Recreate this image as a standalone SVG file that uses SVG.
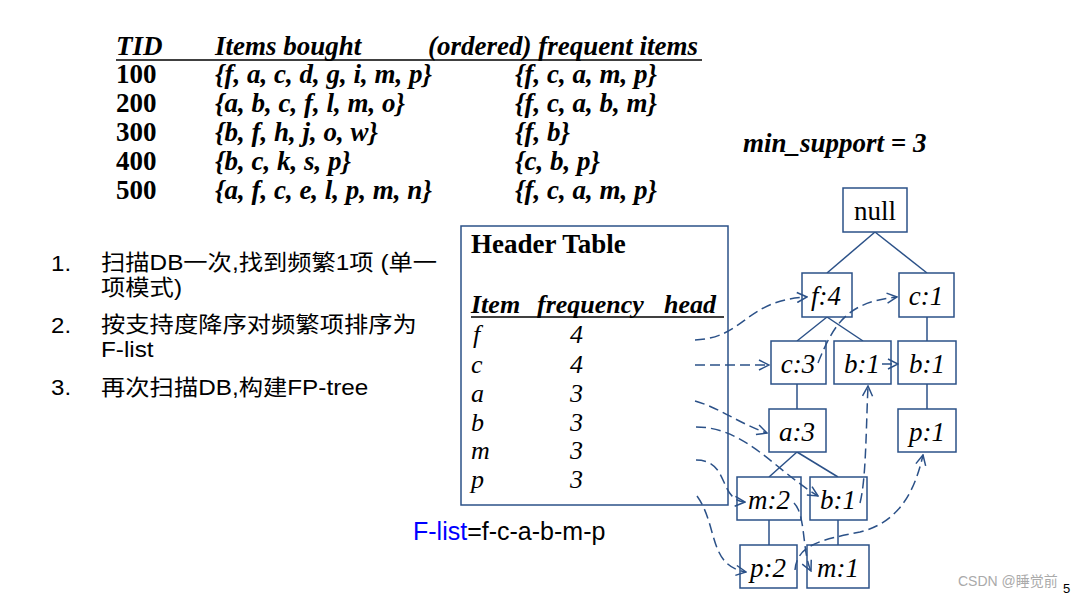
<svg xmlns="http://www.w3.org/2000/svg" width="1073" height="596" viewBox="0 0 1073 596">
<style>
.tb{font-family:"Liberation Serif",serif;font-size:27px;font-weight:bold;font-style:italic;fill:#000}
.tn{font-family:"Liberation Serif",serif;font-size:27px;font-weight:bold;fill:#000}
.ht{font-family:"Liberation Serif",serif;font-size:26px;font-style:italic;fill:#000}
.hb{font-family:"Liberation Serif",serif;font-size:26px;font-weight:bold;font-style:italic;fill:#000}
.zh{font-family:"Liberation Sans","Noto Sans CJK SC",sans-serif;font-size:21.5px;fill:#000}
.box{fill:#fff;stroke:#2b5188;stroke-width:1.5}
.nt{font-family:"Liberation Serif",serif;font-size:27px;font-style:italic;fill:#000;text-anchor:middle}
.edge{stroke:#2b5188;stroke-width:1.5;fill:none}
.link{stroke:#2b5188;stroke-width:1.5;fill:none;stroke-dasharray:10 5;marker-end:url(#arr)}
</style>
<defs>
<marker id="arr" viewBox="0 0 12 12" refX="11" refY="6" markerWidth="12" markerHeight="12" markerUnits="userSpaceOnUse" orient="auto">
<path d="M1,1 L11,6 L1,11" fill="none" stroke="#2b5188" stroke-width="1.5"/>
</marker>
</defs>
<rect width="1073" height="596" fill="#fff"/>

<g id="transactions">
<text class="tb" x="116" y="55">TID</text>
<text class="tb" x="215" y="55">Items bought</text>
<text class="tb" x="428" y="55">(ordered) frequent items</text>
<line x1="116" y1="60" x2="702" y2="60" stroke="#000" stroke-width="1.5"/>
<text class="tn" x="116" y="83">100</text>
<text class="tb" x="215" y="83">{f, a, c, d, g, i, m, p}</text>
<text class="tb" x="515" y="83">{f, c, a, m, p}</text>
<text class="tn" x="116" y="112">200</text>
<text class="tb" x="215" y="112">{a, b, c, f, l, m, o}</text>
<text class="tb" x="515" y="112">{f, c, a, b, m}</text>
<text class="tn" x="116" y="141">300</text>
<text class="tb" x="215" y="141">{b, f, h, j, o, w}</text>
<text class="tb" x="515" y="141">{f, b}</text>
<text class="tn" x="116" y="170">400</text>
<text class="tb" x="215" y="170">{b, c, k, s, p}</text>
<text class="tb" x="515" y="170">{c, b, p}</text>
<text class="tn" x="116" y="199">500</text>
<text class="tb" x="215" y="199">{a, f, c, e, l, p, m, n}</text>
<text class="tb" x="515" y="199">{f, c, a, m, p}</text>
</g>

<g id="min-support">
<text class="tb" x="743" y="152">min_support = 3</text>
</g>

<g id="steps">
<text class="zh" transform="translate(51,271) scale(1.12,1)">1.</text>
<text class="zh" transform="translate(101,270) scale(1.13,1)">扫描DB一次,找到频繁1项 (单一</text>
<text class="zh" transform="translate(101,295) scale(1.13,1)">项模式)</text>
<text class="zh" transform="translate(51,333) scale(1.12,1)">2.</text>
<text class="zh" transform="translate(101,332) scale(1.13,1)">按支持度降序对频繁项排序为</text>
<text class="zh" transform="translate(101,357) scale(1.13,1)">F-list</text>
<text class="zh" transform="translate(51,395) scale(1.12,1)">3.</text>
<text class="zh" transform="translate(101,395) scale(1.13,1)">再次扫描DB,构建FP-tree</text>
</g>

<g id="flist">
<text x="413" y="540" style="font-family:'Liberation Sans',sans-serif;font-size:25px"><tspan fill="#0000ff">F-list</tspan><tspan fill="#000">=f-c-a-b-m-p</tspan></text>
</g>

<g id="header-table">
<rect class="box" x="461" y="226" width="267" height="279" fill="none"/>
<text x="471" y="253" style="font-family:'Liberation Serif',serif;font-size:27px;font-weight:bold">Header Table</text>
<text class="hb" x="471" y="313">Item</text>
<text class="hb" x="537" y="313">frequency</text>
<text class="hb" x="664" y="313">head</text>
<line x1="471" y1="317" x2="724" y2="317" stroke="#000" stroke-width="1.5"/>
<text class="ht" x="473" y="343">f</text><text class="ht" x="570" y="343">4</text>
<text class="ht" x="471" y="373">c</text><text class="ht" x="570" y="373">4</text>
<text class="ht" x="471" y="402">a</text><text class="ht" x="570" y="402">3</text>
<text class="ht" x="471" y="431">b</text><text class="ht" x="570" y="431">3</text>
<text class="ht" x="471" y="459">m</text><text class="ht" x="570" y="459">3</text>
<text class="ht" x="471" y="488">p</text><text class="ht" x="570" y="488">3</text>
</g>

<g id="tree-edges">
<line class="edge" x1="875" y1="232" x2="827" y2="273"/>
<line class="edge" x1="875" y1="232" x2="927" y2="273"/>
<line class="edge" x1="827" y1="317" x2="797" y2="341"/>
<line class="edge" x1="827" y1="317" x2="863" y2="341"/>
<line class="edge" x1="927" y1="317" x2="927" y2="341"/>
<line class="edge" x1="797" y1="384" x2="797" y2="409"/>
<line class="edge" x1="927" y1="384" x2="927" y2="409"/>
<line class="edge" x1="797" y1="452" x2="769" y2="477"/>
<line class="edge" x1="797" y1="452" x2="838" y2="477"/>
<line class="edge" x1="769" y1="520" x2="769" y2="545"/>
<line class="edge" x1="838" y1="520" x2="838" y2="545"/>
</g>

<g id="node-null"><rect class="box" x="843" y="188" width="64" height="44"/><text class="nt" x="875" y="220" style="font-style:normal">null</text></g>
<g id="node-f4"><rect class="box" x="802" y="273" width="50" height="44"/><text class="nt" x="826" y="305">f:4</text></g>
<g id="node-c1"><rect class="box" x="899" y="273" width="55" height="44"/><text class="nt" x="926" y="305">c:1</text></g>
<g id="node-c3"><rect class="box" x="771" y="341" width="55" height="43"/><text class="nt" x="798" y="373">c:3</text></g>
<g id="node-b1a"><rect class="box" x="834" y="341" width="57" height="43"/><text class="nt" x="862" y="373">b:1</text></g>
<g id="node-b1b"><rect class="box" x="898" y="341" width="58" height="43"/><text class="nt" x="927" y="373">b:1</text></g>
<g id="node-a3"><rect class="box" x="769" y="409" width="57" height="43"/><text class="nt" x="797" y="441">a:3</text></g>
<g id="node-p1"><rect class="box" x="898" y="409" width="58" height="43"/><text class="nt" x="927" y="441">p:1</text></g>
<g id="node-m2"><rect class="box" x="737" y="477" width="64" height="43"/><text class="nt" x="769" y="509">m:2</text></g>
<g id="node-b1c"><rect class="box" x="810" y="477" width="57" height="43"/><text class="nt" x="838" y="509">b:1</text></g>
<g id="node-p2"><rect class="box" x="740" y="545" width="57" height="43"/><text class="nt" x="768" y="577">p:2</text></g>
<g id="node-m1"><rect class="box" x="807" y="545" width="62" height="43"/><text class="nt" x="838" y="577">m:1</text></g>

<g id="connectors">
<path class="link" d="M695,340 C745,338 745,300 807,297"/>
<path class="link" d="M695,365 L769,365"/>
<path class="link" d="M818,363 C835,320 850,302 897,297"/>
<path class="link" d="M882,364 L898,364"/>
<path class="link" d="M695,401 C720,408 740,424 767,433"/>
<path class="link" d="M696,427 C745,427 775,470 818,496"/>
<path class="link" d="M696,460 C730,460 718,500 745,502"/>
<path class="link" d="M697,496 C718,525 708,566 746,572"/>
<path class="link" d="M794,503 C806,515 802,552 811,571"/>
<path class="link" d="M860,503 C866,480 866,430 868,386"/>
<path class="link" d="M795,570 C797,545 820,540 860,532 C900,522 915,490 923,455"/>
</g>

<g id="watermark">
<text x="958" y="586" style="font-family:'Liberation Sans','Noto Sans CJK SC',sans-serif;font-size:14px" fill="#aaaaaa">CSDN @睡觉前</text>
<text x="1063" y="593" style="font-family:'Liberation Sans',sans-serif;font-size:13px" fill="#000">5</text>
</g>
</svg>
